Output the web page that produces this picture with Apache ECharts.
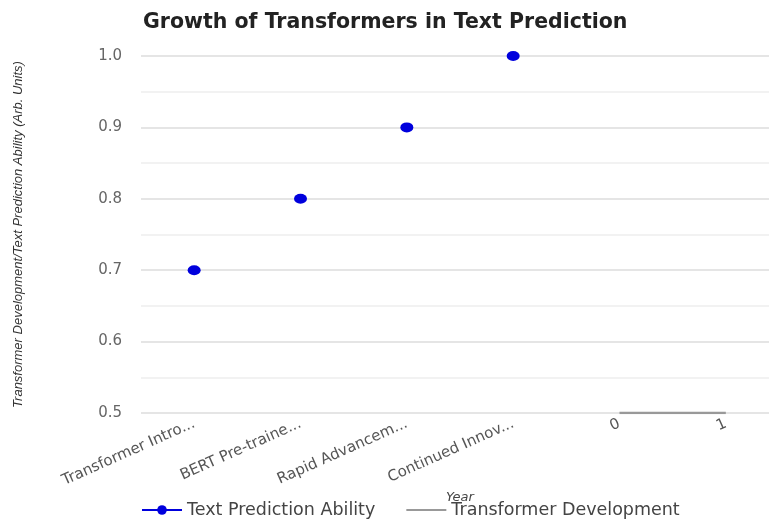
<!DOCTYPE html>
<html>
<head>
<meta charset="utf-8">
<script src="https://cdn.jsdelivr.net/npm/echarts@6/dist/echarts.min.js"></script>
<style>html,body{margin:0;padding:0;background:#fff;}#chart{width:769px;height:525px;}</style>
</head>
<body>
<div id="chart"></div>
<script>
var categories = ["Transformer Intro...", "BERT Pre-traine...", "Rapid Advancem...", "Continued Innov...", "0", "1"];
var textPrediction = [0.7, 0.8, 0.9, 1.0, null, null];
var transformerDev = [null, null, null, null, 0.5, 0.5];
var yTicks = [0.5, 0.6, 0.7, 0.8, 0.9, 1.0];

var FONT = 'DejaVu Sans, Liberation Sans, Arial';
var chart = echarts.init(document.getElementById('chart'));
chart.setOption({
  animation: false,
  backgroundColor: '#fff',
  title: {
    text: 'Growth of Transformers in Text Prediction',
    left: 138, top: 7,
    textStyle: {fontFamily: FONT, fontSize: 20.5, fontWeight: 'bold', color: '#222'}
  },
  legend: {
    bottom: 1, left: 136,
    itemWidth: 40, itemHeight: 12, itemGap: 30,
    textStyle: {fontFamily: FONT, fontSize: 17.5, color: '#444'},
    data: [
      {name: 'Text Prediction Ability', itemStyle: {color: '#0000dd'}, lineStyle: {color: '#0000dd', width: 2, opacity: 1}},
      {name: 'Transformer Development', itemStyle: {opacity: 0}, lineStyle: {color: '#999', width: 2, opacity: 1}}
    ]
  },
  grid: {left: 141, top: 56, width: 638, height: 357, containLabel: false, outerBoundsMode: 'none'},
  xAxis: {
    type: 'category',
    data: categories,
    boundaryGap: true,
    name: 'Year',
    nameLocation: 'middle',
    nameGap: 78,
    nameMoveOverlap: false,
    nameTextStyle: {fontFamily: FONT, fontStyle: 'italic', fontSize: 13, color: '#444'},
    axisLine: {show: false},
    axisTick: {show: false},
    axisLabel: {
      rotate: 24, fontFamily: FONT, fontSize: 15, color: '#555', margin: 10
    }
  },
  yAxis: {
    type: 'value',
    min: 0.5, max: 1.0, interval: 0.1,
    name: 'Transformer Development/Text Prediction Ability (Arb. Units)',
    nameLocation: 'middle',
    nameGap: 116,
    nameTextStyle: {fontFamily: 'Liberation Sans, Arial', fontStyle: 'italic', fontSize: 13, color: '#333'},
    axisLine: {show: false},
    axisTick: {show: false},
    axisLabel: {
      fontFamily: FONT, fontSize: 15, color: '#666', margin: 19,
      formatter: function (v) { return v.toFixed(1); }
    },
    splitLine: {lineStyle: {color: '#ddd', width: 1.5}},
    minorTick: {show: false, splitNumber: 2},
    minorSplitLine: {show: true, lineStyle: {color: '#eee', width: 1.5}}
  },
  series: [
    {
      name: 'Text Prediction Ability',
      type: 'line',
      data: textPrediction,
      symbol: 'circle',
      symbolSize: [13, 10],
      itemStyle: {color: '#0000dd'},
      lineStyle: {width: 0, color: '#0000dd'},
      connectNulls: false
    },
    {
      name: 'Transformer Development',
      type: 'line',
      data: transformerDev,
      showSymbol: false,
      symbol: 'none',
      lineStyle: {color: '#999', width: 2.5},
      itemStyle: {color: '#999'}
    }
  ]
});
</script>
</body>
</html>
